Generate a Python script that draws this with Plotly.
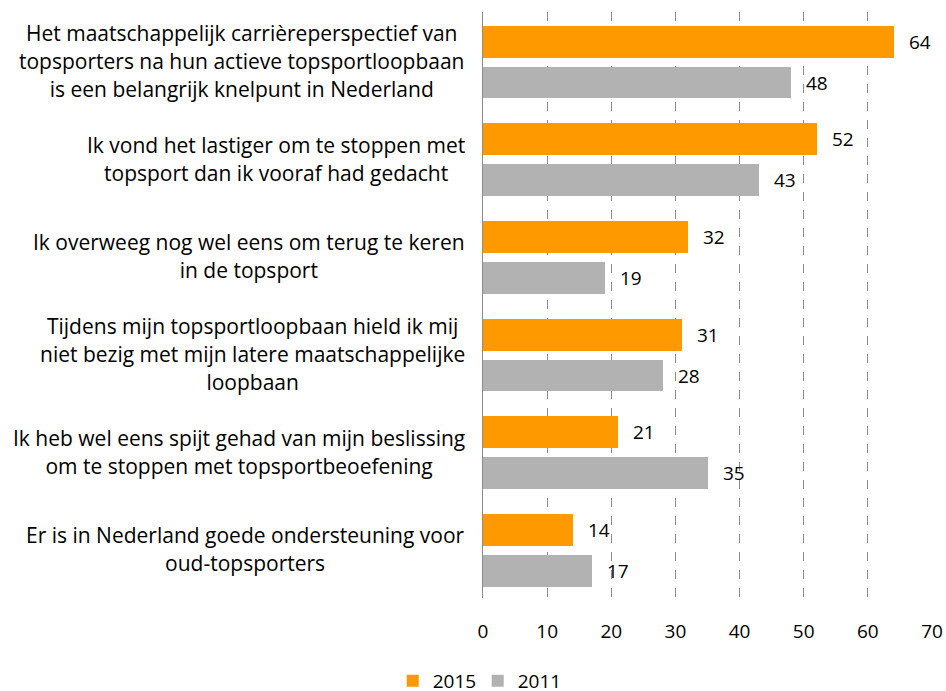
import plotly.graph_objects as go

categories = [
    "Het maatschappelijk carrièreperspectief van<br>topsporters na hun actieve topsportloopbaan<br>is een belangrijk knelpunt in Nederland",
    "Ik vond het lastiger om te stoppen met<br>topsport dan ik vooraf had gedacht",
    "Ik overweeg nog wel eens om terug te keren<br>in de topsport",
    "Tijdens mijn topsportloopbaan hield ik mij<br>niet bezig met mijn latere maatschappelijke<br>loopbaan",
    "Ik heb wel eens spijt gehad van mijn beslissing<br>om te stoppen met topsportbeoefening",
    "Er is in Nederland goede ondersteuning voor<br>oud-topsporters",
]
values_2015 = [64, 52, 32, 31, 21, 14]
values_2011 = [48, 43, 19, 28, 35, 17]
series_names = ["2015", "2011"]
x_ticks = [0, 10, 20, 30, 40, 50, 60, 70]

ORANGE = "#FF9900"
GRAY = "#B2B2B2"
FONT = "Open Sans"
FS_LAB = 21
FS = 19

L, R, T, B = 483, 14, 12, 93
PW = 946 - L - R

idx = list(range(len(categories)))
off = [-0.195, 0.222]
width = 0.327

fig = go.Figure()
for name, vals, color, o in [(series_names[0], values_2015, ORANGE, off[0]),
                             (series_names[1], values_2011, GRAY, off[1])]:
    fig.add_trace(go.Bar(
        x=vals, y=[i + o for i in idx], orientation="h", name=name,
        width=width, marker=dict(color=color, line=dict(width=0)),
    ))
    for i, v in zip(idx, vals):
        fig.add_annotation(x=v, y=i + o, text=str(v), showarrow=False,
                           xanchor="left", yanchor="middle", xshift=13,
                           font=dict(family=FONT, size=FS, color="#000"))

for i, lab in zip(idx, categories):
    lines = lab.split("<br>")
    txt = "<br>".join(f"<span style='font-size:{FS_LAB}px'>{l}</span>" for l in lines)
    fig.add_annotation(x=(467 - L) / PW, xref="paper", y=i, yref="y", text=txt,
                       showarrow=False, xanchor="right", yanchor="middle",
                       align="center", font=dict(family=FONT, size=21.5, color="#000"))

fig.update_layout(
    width=946, height=691,
    margin=dict(l=L, r=R, t=T, b=B, autoexpand=False),
    plot_bgcolor="white", paper_bgcolor="white",
    bargap=0, barmode="overlay",
    font=dict(family=FONT, size=FS, color="#000"),
    showlegend=True,
    legend=dict(orientation="h", xref="container", yref="container",
                x=0.505, y=1 - 662 / 691, xanchor="center", yanchor="top",
                font=dict(family=FONT, size=FS), itemwidth=30, traceorder="normal",
                entrywidth=40, entrywidthmode="pixels"),
)
fig.update_xaxes(range=[0, 70], tickvals=x_ticks, ticktext=[str(t) for t in x_ticks],
                 showgrid=True, gridcolor="#8C8C8C", griddash="dash", gridwidth=1,
                 zeroline=False, showline=False, ticks="", ticklabelstandoff=20,
                 tickfont=dict(family=FONT, size=FS, color="#000"))
fig.update_yaxes(range=[5.5, -0.5], showticklabels=False, showgrid=False,
                 zeroline=False, showline=True, linecolor="#8C8C8C", linewidth=1, ticks="")

fig.write_html("out.html", config={"displayModeBar": False},
               post_script="document.body.style.margin='0';")
